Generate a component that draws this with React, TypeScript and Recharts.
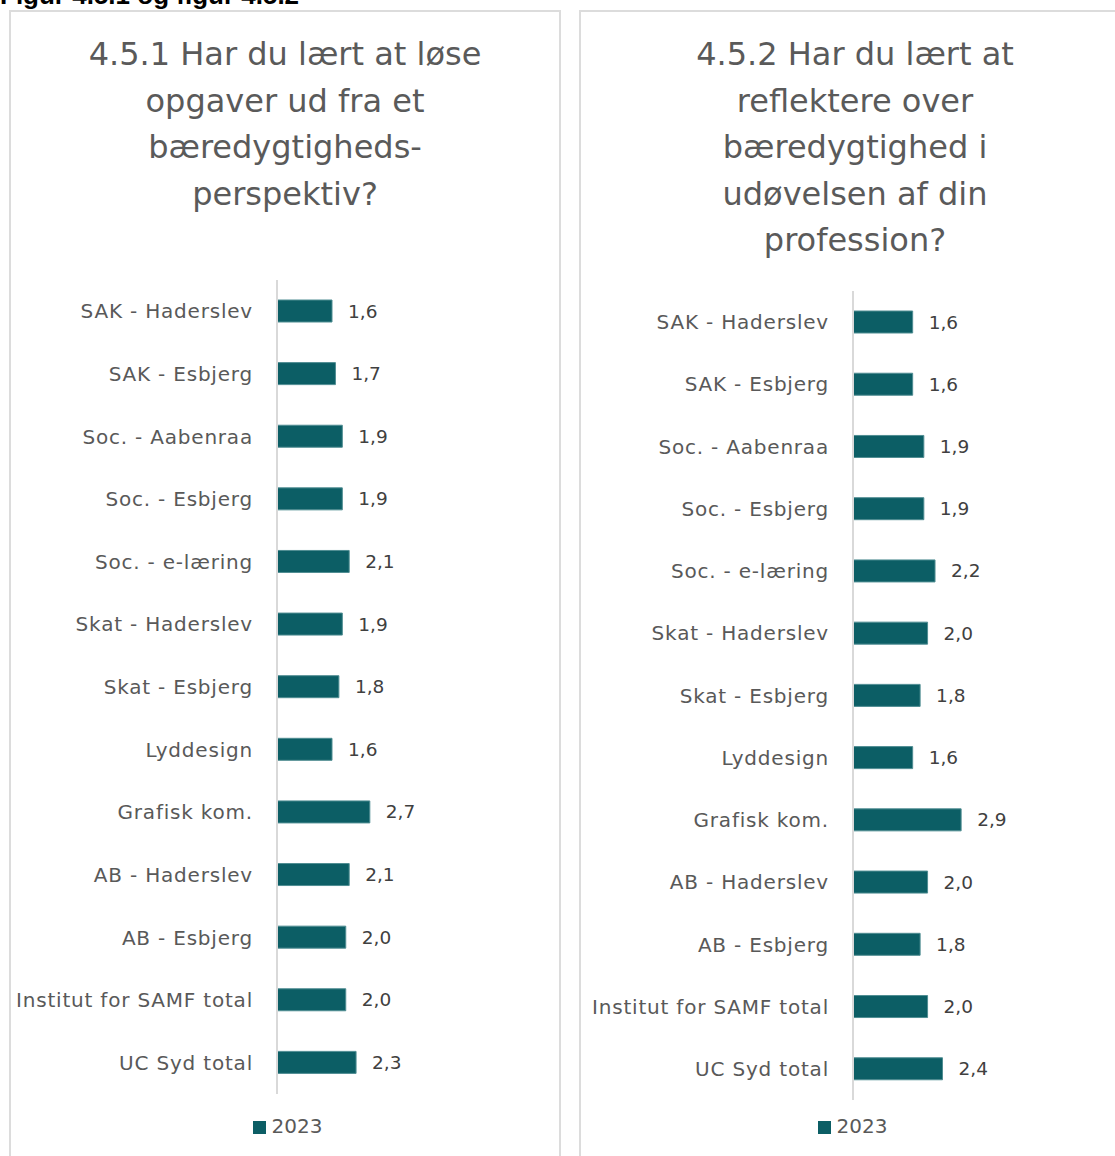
import { Bar, BarChart, LabelList, Legend, XAxis, YAxis } from "recharts";

const categories = [
  "SAK - Haderslev",
  "SAK - Esbjerg",
  "Soc. - Aabenraa",
  "Soc. - Esbjerg",
  "Soc. - e-læring",
  "Skat - Haderslev",
  "Skat - Esbjerg",
  "Lyddesign",
  "Grafisk kom.",
  "AB - Haderslev",
  "AB - Esbjerg",
  "Institut for SAMF total",
  "UC Syd total",
];

// 4.5.1 løse opgaver ud fra et bæredygtighedsperspektiv
const values451 = [1.6, 1.7, 1.9, 1.9, 2.1, 1.9, 1.8, 1.6, 2.7, 2.1, 2.0, 2.0, 2.3];
// 4.5.2 reflektere over bæredygtighed i professionen
const values452 = [1.6, 1.6, 1.9, 1.9, 2.2, 2.0, 1.8, 1.6, 2.9, 2.0, 1.8, 2.0, 2.4];

const seriesName = "2023";

const title451 = ["4.5.1 Har du lært at løse", "opgaver ud fra et", "bæredygtigheds-", "perspektiv?"];
const title452 = ["4.5.2 Har du lært at", "reflektere over", "bæredygtighed i", "udøvelsen af din", "profession?"];

const BAR = "#0c5e65";
const FONT = "'DejaVu Sans', sans-serif";

const fmt = (v: unknown) => Number(v).toFixed(1).replace(".", ",");

type Row = { name: string; value: number };

function toRows(values: number[]): Row[] {
  return categories.map((name, i) => ({ name, value: values[i] }));
}

function Panel({ left, lines }: { left: number; lines: string[] }) {
  return (
    <div
      style={{
        position: "absolute",
        left,
        top: 10,
        width: 552,
        height: 1200,
        border: "2px solid #dcdcdc",
        boxSizing: "border-box",
      }}
    >
      <div
        style={{
          position: "absolute",
          left: 0,
          right: 0,
          top: 19,
          textAlign: "center",
          fontFamily: FONT,
          fontSize: 32,
          lineHeight: "46.5px",
          color: "#5a5a5a",
        }}
      >
        {lines.map((l) => (
          <div key={l}>{l}</div>
        ))}
      </div>
    </div>
  );
}

function SurveyChart(props: {
  rows: Row[];
  left: number;
  top: number;
  height: number;
  axisWidth: number;
  max: number;
  marginRight: number;
  legendPad: number;
  legendLeft: number;
}) {
  const { rows, left, top, height, axisWidth, max, marginRight, legendPad, legendLeft } = props;
  return (
    <div style={{ position: "absolute", left, top }}>
      <BarChart
        width={552}
        height={height}
        data={rows}
        layout="vertical"
        margin={{ top: 10, right: marginRight, bottom: 18, left: 0 }}
        barCategoryGap={20}
      >
        <XAxis type="number" domain={[0, max]} hide />
        <YAxis
          type="category"
          dataKey="name"
          width={axisWidth}
          tickLine={false}
          tickSize={0}
          tickMargin={24}
          axisLine={{ stroke: "#d9d9d9", strokeWidth: 2 }}
          tick={{ fill: "#595959", fontSize: 20, fontFamily: FONT, letterSpacing: 0.8 }}
          interval={0}
        />
        <Legend
          verticalAlign="bottom"
          iconType="square"
          iconSize={13}
          wrapperStyle={{ paddingTop: legendPad, left: legendLeft, fontFamily: FONT, fontSize: 20 }}
          formatter={(v) => <span style={{ color: "#595959", paddingLeft: 2 }}>{v}</span>}
        />
        <Bar
          dataKey="value"
          name={seriesName}
          fill={BAR}
          stroke="#4f8d92"
          strokeWidth={1}
          barSize={22}
          isAnimationActive={false}
        >
          <LabelList
            dataKey="value"
            position="right"
            offset={16}
            formatter={fmt}
            fill="#404040"
            fontSize={18.5}
            fontFamily={FONT}
          />
        </Bar>
      </BarChart>
    </div>
  );
}

export default function App() {
  return (
    <div
      style={{
        position: "absolute",
        left: 0,
        top: 0,
        width: 1115,
        height: 1156,
        overflow: "hidden",
        background: "#fff",
      }}
    >
      <div
        style={{
          position: "absolute",
          left: 0,
          top: -18,
          fontFamily: "'Liberation Sans', Arial, sans-serif",
          fontWeight: 700,
          fontSize: 26,
          lineHeight: "26px",
          color: "#000",
          whiteSpace: "nowrap",
        }}
      >
        Figur 4.5.1 og figur 4.5.2
      </div>
      <Panel left={9} lines={title451} />
      <Panel left={579} lines={title452} />
      <SurveyChart
        rows={toRows(values451)}
        left={9}
        top={270}
        height={886}
        axisWidth={268}
        max={8}
        marginRight={9}
        legendPad={20}
        legendLeft={12}
      />
      <SurveyChart
        rows={toRows(values452)}
        left={579}
        top={281}
        height={875}
        axisWidth={274}
        max={7}
        marginRight={17}
        legendPad={14}
        legendLeft={11}
      />
    </div>
  );
}
